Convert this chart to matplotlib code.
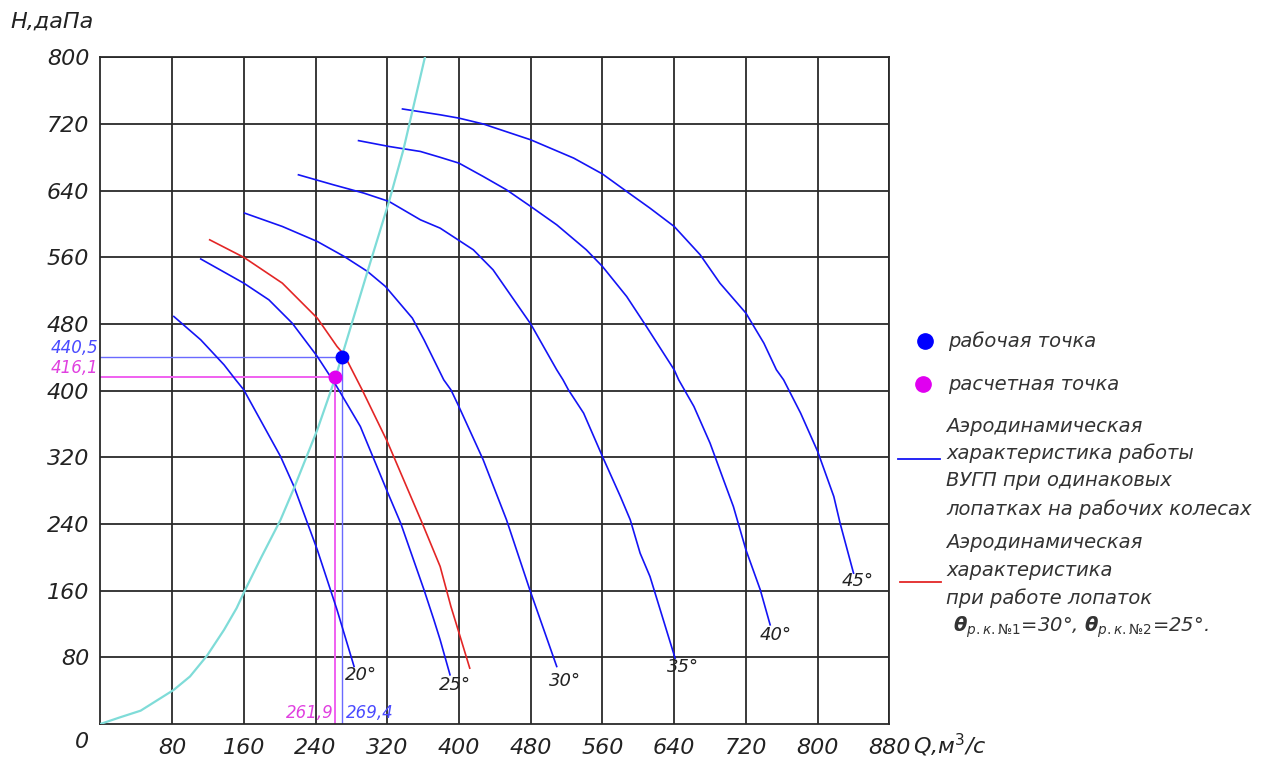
import matplotlib.pyplot as plt
from matplotlib.lines import Line2D

# характеристика сети
q_set = [0, 22, 45, 82, 100, 119, 138, 152, 162, 180, 201, 216, 242, 262, 298, 322, 338, 362]
h_set = [0, 8, 16, 41, 57, 82, 113, 139, 162, 201, 245, 283, 353, 415, 543, 627, 689, 800]

# характеристики ВУГП при одинаковых лопатках
q20 = [82, 112, 138, 151, 160, 201, 216, 242, 264, 283]
h20 = [489, 461, 431, 413, 401, 321, 285, 209, 137, 69]

q25 = [112, 160, 188, 214, 242, 262, 290, 320, 335, 361, 372, 379, 390]
h25 = [558, 529, 509, 481, 441, 408, 357, 279, 241, 161, 125, 101, 59]

q30 = [161, 203, 242, 272, 298, 318, 348, 361, 383, 391, 399, 427, 453, 479, 509]
h30 = [613, 597, 579, 561, 543, 525, 487, 461, 413, 401, 383, 317, 245, 161, 69]

q35 = [221, 260, 294, 322, 357, 379, 416, 438, 480, 509, 516, 522, 539, 560, 580, 591, 602, 613, 641]
h35 = [659, 647, 637, 627, 605, 595, 569, 545, 480, 425, 413, 401, 373, 321, 273, 245, 205, 177, 79]

q40 = [288, 322, 357, 379, 400, 427, 453, 480, 509, 542, 560, 587, 609, 640, 645, 662, 680, 695, 706, 720, 736, 747]
h40 = [700, 693, 687, 680, 673, 657, 641, 621, 599, 569, 549, 513, 477, 425, 413, 381, 337, 293, 261, 209, 161, 119]

q45 = [337, 379, 400, 427, 480, 528, 560, 587, 613, 640, 669, 691, 720, 740, 754, 762, 781, 800, 818, 825, 840]
h45 = [738, 731, 727, 720, 701, 679, 660, 639, 619, 597, 563, 529, 493, 457, 425, 413, 373, 327, 273, 241, 181]

# лопатки 30/25
q_red = [122, 160, 203, 242, 264, 272, 292, 320, 359, 379, 391, 399, 412]
h_red = [581, 560, 529, 487, 453, 443, 401, 339, 241, 189, 141, 113, 67]

# подписи углов
ugly = ["20°", "25°", "30°", "35°", "40°", "45°"]
ugly_q = [291, 396, 518, 650, 753, 845]
ugly_h = [59, 47, 51, 68, 107, 171]

q_rab, h_rab = 269.4, 440.5
q_rasch, h_rasch = 261.9, 416.1

x_ticks = list(range(80, 881, 80))
y_ticks = list(range(80, 801, 80))

W, H = 1263, 760
fig = plt.figure(figsize=(W / 100, H / 100), dpi=100)
ax = fig.add_axes([100.3 / W, 1 - 724 / H, 789.1 / W, 666.7 / H])

sinij = "#1414f5"
for q, h in [(q20, h20), (q25, h25), (q30, h30), (q35, h35), (q40, h40), (q45, h45)]:
    ax.plot(q, h, color=sinij, lw=1.2, zorder=3)
ax.plot(q_red, h_red, color="#e32626", lw=1.2, zorder=3)
ax.plot(q_set, h_set, color="#7fdcd8", lw=1.6, zorder=3)

# вспомогательные линии
ax.plot([0, q_rab], [h_rab, h_rab], color="#6a6aff", lw=1.0, zorder=2)
ax.plot([q_rab, q_rab], [0, h_rab], color="#6a6aff", lw=1.0, zorder=2)
ax.plot([0, q_rasch], [h_rasch, h_rasch], color="#f060f0", lw=1.4, zorder=2)
ax.plot([q_rasch, q_rasch], [0, h_rasch], color="#f060f0", lw=1.4, zorder=2)
ax.plot(q_rab, h_rab, "o", color="#0000ff", ms=9, zorder=5)
ax.plot(q_rasch, h_rasch, "o", color="#e000f0", ms=9, zorder=5)

for t, q, h in zip(ugly, ugly_q, ugly_h):
    ax.text(q, h, t, ha="center", va="center", fontsize=13, style="italic", color="#222222")

ax.text(-2, h_rab, "440,5", ha="right", va="bottom", fontsize=12, style="italic", color="#4a4aff", clip_on=False)
ax.text(-2, h_rasch, "416,1", ha="right", va="bottom", fontsize=12, style="italic", color="#e040e0", clip_on=False)
ax.text(q_rasch - 2, 2, "261,9", ha="right", va="bottom", fontsize=12, style="italic", color="#e040e0")
ax.text(q_rab + 5, 2, "269,4", ha="left", va="bottom", fontsize=12, style="italic", color="#4a4aff")

ax.set_xlim(0, 880)
ax.set_ylim(0, 800)
ax.set_xticks(x_ticks)
ax.set_yticks(y_ticks)
ax.grid(True, color="#2a2a2a", lw=1.3)
ax.set_axisbelow(True)
for s in ax.spines.values():
    s.set_color("#2a2a2a")
    s.set_linewidth(1.3)
ax.tick_params(length=0, labelsize=16, colors="#222222")
ax.tick_params(axis="x", pad=10)
ax.tick_params(axis="y", pad=8)
for lab in ax.get_xticklabels() + ax.get_yticklabels():
    lab.set_fontstyle("italic")

fig.text(82 / W, 1 - 742 / H, "0", ha="center", va="center", fontsize=16, style="italic", color="#222222")
fig.text(52 / W, 1 - 22 / H, "H,даПа", ha="center", va="center", fontsize=16, style="italic", color="#222222")
fig.text(913 / W, 1 - 745 / H, "Q,м$^3$/с", ha="left", va="center", fontsize=16, style="italic", color="#222222")

# легенда
def px(x, y):
    return x / W, 1 - y / H

fig.add_artist(Line2D([925 / W], [1 - 341 / H], marker="o", color="#0000ff", ms=11, lw=0))
fig.add_artist(Line2D([923 / W], [1 - 384 / H], marker="o", color="#e000f0", ms=11, lw=0))
fig.add_artist(Line2D([898 / W, 940 / W], [1 - 459 / H, 1 - 459 / H], color=sinij, lw=1.3))
fig.add_artist(Line2D([900 / W, 941 / W], [1 - 582 / H, 1 - 582 / H], color="#e32626", lw=1.3))

leg = [
    (948, 341, "рабочая точка"),
    (948, 384, "расчетная точка"),
    (946, 426, "Аэродинамическая"),
    (946, 453, "характеристика работы"),
    (946, 481, "ВУГП при одинаковых"),
    (946, 509, "лопатках на рабочих колесах"),
    (946, 543, "Аэродинамическая"),
    (946, 570, "характеристика"),
    (946, 598, "при работе лопаток"),
]
for x, y, t in leg:
    fig.text(*px(x, y), t, ha="left", va="center", fontsize=14, style="italic", color="#333333")
fig.text(*px(953, 627), r"$\boldsymbol{\theta}_{р.к.№1}$=30°, $\boldsymbol{\theta}_{р.к.№2}$=25°.",
         ha="left", va="center", fontsize=14, style="italic", color="#333333")

fig.savefig("out.png", dpi=100)
